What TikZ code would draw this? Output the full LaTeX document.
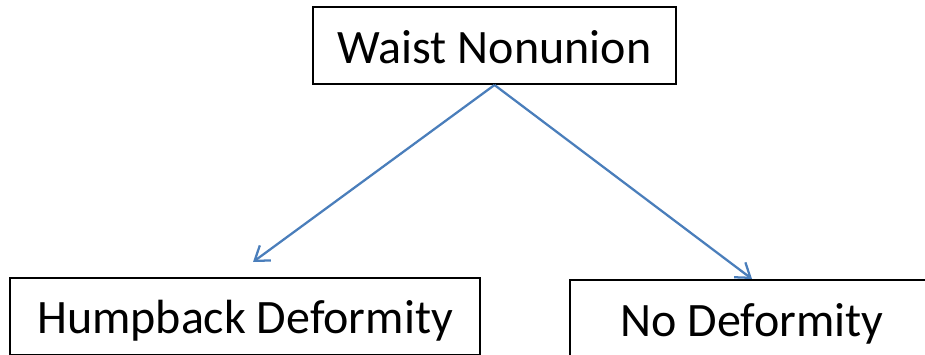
\documentclass[tikz,border=0pt]{standalone}
\usepackage{fontspec}
\setmainfont{Carlito}
\usetikzlibrary{arrows.meta}
\definecolor{arrowblue}{HTML}{4A7EBB}
\tikzset{
  box/.style={draw=black, line width=1.5pt, inner sep=0pt, anchor=north west,
    text height=42pt, text depth=15.75pt,
    font=\fontsize{36pt}{43pt}\selectfont},
  link/.style={draw=arrowblue, line width=1.7pt,
    -{Straight Barb[length=10pt,width=14pt,line width=1.7pt]}}
}
\begin{document}
\begin{tikzpicture}[x=0.75pt,y=-0.75pt]
\useasboundingbox (0,0) rectangle (925,354);
\clip (0,0) rectangle (925,354);
\node[box, minimum width=272.25pt] (waist) at (312,6) {Waist Nonunion};
\node[box, minimum width=352.5pt] (hump) at (9,276.5) {Humpback Deformity};
\node[box, minimum width=273pt] (nodef) at (569,279) {No Deformity};
\coordinate (ltip) at (253,262);
\draw[link] (waist.south) -- (ltip);
\draw[link] (waist.south) -- (nodef.north);
\end{tikzpicture}
\end{document}
